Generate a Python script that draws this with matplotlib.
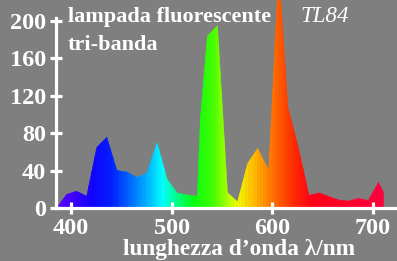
import numpy as np
import matplotlib
matplotlib.use('Agg')
import matplotlib.pyplot as plt
from matplotlib.colors import LinearSegmentedColormap

# spettro lampada TL84
wavelength = [387, 395, 405, 415, 425, 435, 445, 455, 465, 475, 485, 495, 505,
              515, 525, 528, 535, 545, 555, 565, 575, 585, 596, 606, 615, 625,
              636, 646, 655, 665, 675, 685, 695, 705, 710, 710]
power = [3, 15, 18.5, 13, 65, 76, 40.5, 39, 33, 38, 70, 31, 16.5,
         14.5, 13, 95, 184, 195, 17, 7, 48, 64, 40.5, 255, 108, 67,
         14, 16.7, 13, 9.2, 7.8, 10.7, 8.5, 27.7, 17.4, 0]

x_ticks = [400, 500, 600, 700]
y_ticks = [0, 40, 80, 120, 160, 200]

# colori approssimati dello spettro visibile
anchors = [(385, '#6000ff'), (400, '#4000ff'), (420, '#1000ff'), (440, '#0020ff'),
           (460, '#0070ff'), (478, '#00c0ff'), (490, '#00ffff'), (502, '#00ffa0'),
           (520, '#00ff10'), (540, '#40ff00'), (552, '#90ff00'), (565, '#f0ff00'),
           (580, '#ffc000'), (592, '#ff9000'), (605, '#ff6000'), (622, '#ff2800'),
           (640, '#ff0018'), (715, '#ff0040')]
lo, hi = anchors[0][0], anchors[-1][0]
cmap = LinearSegmentedColormap.from_list(
    'spettro', [((w - lo) / (hi - lo), c) for w, c in anchors])

bg = '#7f7f7f'
fig = plt.figure(figsize=(3.97, 2.61), dpi=100, facecolor=bg)
ax = fig.add_axes([56 / 397, 53 / 261, 341 / 397, 208 / 261])
ax.set_facecolor(bg)

# riempimento a strisce colorate
edges = np.arange(wavelength[0], wavelength[-1] + 3, 3.0)
edges[-1] = wavelength[-1]
for a, b in zip(edges[:-1], edges[1:]):
    xs = [a] + [w for w in wavelength if a < w < b] + [b]
    ys = np.interp(xs, wavelength[:-1], power[:-1])
    ax.fill_between(xs, 0, ys, color=cmap(((a + b) / 2 - lo) / (hi - lo)),
                    lw=0.4, clip_on=True)

ax.set_xlim(385, 724)
ax.set_ylim(0, 222)

for s in ['top', 'right']:
    ax.spines[s].set_visible(False)
for s in ['left', 'bottom']:
    ax.spines[s].set_color('white')
    ax.spines[s].set_linewidth(2.3)
    ax.spines[s].set_zorder(5)
ax.spines['left'].set_bounds(0, 203)

ax.set_xticks(x_ticks)
ax.set_yticks(y_ticks)
ax.tick_params(direction='inout', length=8, width=2.3, color='white',
               labelcolor='white', pad=3)
ax.tick_params(axis='x', pad=3)
for lab in ax.get_xticklabels() + ax.get_yticklabels():
    lab.set_fontfamily('Liberation Serif')
    lab.set_fontweight('bold')
    lab.set_fontsize(17.5)

font = dict(color='white', family='Liberation Serif', va='baseline')
fig.text(68 / 397, 1 - 22 / 261, 'lampada fluorescente', weight='bold',
         fontsize=16, **font)
fig.text(301 / 397, 1 - 22 / 261, 'TL84', style='italic', fontsize=16.5, **font)
fig.text(68 / 397, 1 - 50 / 261, 'tri-banda', weight='bold', fontsize=16, **font)
fig.text(239 / 397, 1 - 255 / 261, 'lunghezza d\u2019onda \u03bb/nm', weight='bold',
         ha='center', fontsize=16.8, **font)

fig.savefig('out.png', dpi=100, facecolor=bg)
